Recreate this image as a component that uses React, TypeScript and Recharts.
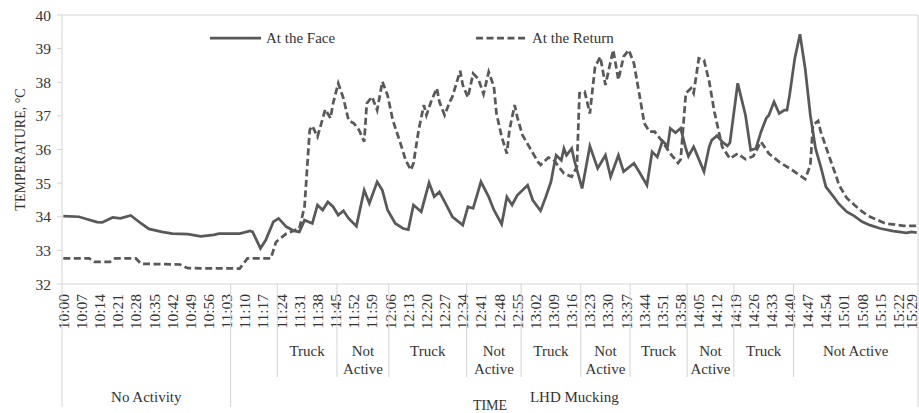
import React from 'react';
import { LineChart, Line, XAxis, YAxis, Legend, ReferenceLine } from 'recharts';

// ---------- DATA ----------
// tick labels of the time axis (every 7 minutes)
const timeLabels = [
  '10:00', '10:07', '10:14', '10:21', '10:28', '10:35', '10:42', '10:49', '10:56',
  '11:03', '11:10', '11:17', '11:24', '11:31', '11:38', '11:45', '11:52', '11:59',
  '12:06', '12:13', '12:20', '12:27', '12:34', '12:41', '12:48', '12:55',
  '13:02', '13:09', '13:16', '13:23', '13:30', '13:37', '13:44', '13:51', '13:58',
  '14:05', '14:12', '14:19', '14:26', '14:33', '14:40', '14:47', '14:54',
  '15:01', '15:08', '15:15', '15:22', '15:29',
];

// "At the Face": minutes after 10:00 and temperature (°C)
const faceMinutes = [
  0, 6, 13, 15, 19, 22, 26, 30, 33, 38, 42, 48, 53, 58, 60, 68, 72, 73, 76, 78,
  81, 83, 86, 89, 91, 93, 96, 98, 100, 102, 104, 106, 108, 110, 113, 116, 118, 121, 123, 125,
  128, 131, 133, 135, 138, 141, 143, 145, 148, 150, 154, 156, 158, 161, 164, 166, 169, 171, 173, 175,
  179, 181, 184, 186, 188, 189, 190, 192, 193, 194, 196, 197, 200, 203, 206, 209, 211, 214, 216, 220,
  222, 225, 227, 229, 231, 233, 234, 236, 238, 240, 241, 243, 244, 247, 249, 250, 252, 254, 256, 257,
  260, 263, 265, 267, 269, 271, 272, 274, 276, 278, 279, 280, 282, 284, 286, 288, 290, 292, 294, 297,
  299, 302, 305, 308, 311, 315, 320, 325, 327, 329,
];
const faceTemps = [
  34.02, 34.0, 33.84, 33.83, 33.98, 33.95, 34.04, 33.8, 33.64, 33.55, 33.5, 33.48, 33.42, 33.46, 33.5, 33.5, 33.58, 33.55, 33.06, 33.3,
  33.85, 33.95, 33.7, 33.58, 33.55, 33.9, 33.8, 34.35, 34.2, 34.44, 34.3, 34.05, 34.18, 33.95, 33.72, 34.79, 34.4, 35.04, 34.79, 34.2,
  33.8, 33.65, 33.62, 34.35, 34.15, 35.01, 34.6, 34.74, 34.3, 34.0, 33.75, 34.3, 34.25, 35.04, 34.59, 34.2, 33.78, 34.59, 34.35, 34.64,
  34.94, 34.49, 34.18, 34.59, 35.04, 35.45, 35.83, 35.68, 36.03, 35.83, 36.03, 35.68, 34.84, 36.1, 35.44, 35.83, 35.19, 35.83, 35.34, 35.59,
  35.34, 34.94, 35.93, 35.78, 36.26, 36.1, 36.63, 36.5, 36.63, 36.03, 35.8, 36.08, 35.9, 35.34, 36.08, 36.28, 36.41, 36.23, 36.11, 36.2,
  37.97, 37.02, 35.98, 36.03, 36.53, 36.93, 37.02, 37.42, 37.07, 37.17, 37.17, 37.62, 38.71, 39.43, 38.41, 37.02, 36.03, 35.49, 34.89, 34.59,
  34.38, 34.15, 34.02, 33.85, 33.75, 33.65, 33.57, 33.52, 33.55, 33.53,
];

// "At the Return": minutes after 10:00 and temperature (°C)
const returnMinutes = [
  0, 10, 12, 18, 20, 28, 30, 45, 48, 68, 71, 80, 82, 86, 91, 93, 95, 96, 98, 101,
  103, 104, 106, 108, 110, 112, 114, 116, 117, 119, 121, 123, 125, 127, 130, 132, 134, 135, 137, 139,
  140, 142, 144, 145, 147, 149, 150, 153, 154, 156, 158, 160, 162, 164, 166, 167, 169, 171, 172, 174,
  175, 177, 180, 183, 184, 187, 189, 191, 193, 196, 198, 199, 201, 203, 205, 207, 209, 212, 214, 216,
  218, 220, 222, 224, 226, 228, 231, 234, 237, 238, 240, 242, 243, 245, 247, 249, 251, 253, 254, 257,
  260, 263, 266, 269, 272, 276, 281, 286, 288, 289, 291, 292, 296, 298, 299, 302, 305, 308, 311, 317,
  324, 329,
];
const returnTemps = [
  32.76, 32.76, 32.66, 32.66, 32.76, 32.76, 32.6, 32.58, 32.47, 32.46, 32.76, 32.76, 33.25, 33.5, 33.65, 34.3, 36.58, 36.7, 36.38, 37.19,
  36.93, 37.37, 37.97, 37.52, 36.86, 36.78, 36.58, 36.23, 37.37, 37.57, 37.17, 38.02, 37.62, 36.88, 36.18, 35.68, 35.39, 35.59, 36.58, 37.32,
  37.02, 37.47, 37.82, 37.42, 37.02, 37.42, 37.57, 38.34, 37.92, 37.55, 38.26, 38.1, 37.65, 38.31, 37.87, 37.07, 36.38, 35.88, 36.58, 37.32,
  36.97, 36.43, 36.03, 35.63, 35.54, 35.76, 35.7, 35.49, 35.29, 35.19, 35.49, 37.67, 37.72, 37.07, 38.46, 38.76, 37.92, 38.96, 38.07, 38.76,
  38.96, 38.56, 37.67, 36.78, 36.53, 36.53, 36.23, 35.88, 35.6, 35.7, 37.67, 37.82, 37.67, 38.71, 38.66, 38.02, 37.12, 36.43, 36.08, 35.73,
  35.88, 35.71, 35.8, 36.23, 35.88, 35.63, 35.39, 35.12, 35.54, 36.73, 36.85, 36.53, 35.63, 35.2, 34.95, 34.56, 34.35, 34.15, 34.0, 33.8,
  33.73, 33.73,
];

const seriesNames = ['At the Face', 'At the Return'];

// activity (second level of the category axis)
const activityLabels = ['', 'Truck', 'Not\nActive', 'Truck', 'Not\nActive', 'Truck', 'Not\nActive', 'Truck', 'Not\nActive', 'Truck', 'Not Active'];
const activityStarts = ['11:05', '11:23', '11:46', '12:06', '12:36', '12:57', '13:20', '13:39', '14:01', '14:19', '14:42'];

// phase (third level of the category axis)
const phaseLabels = ['No Activity', 'LHD Mucking'];
const phaseStarts = ['10:00', '11:05'];

const yTicks = [32, 33, 34, 35, 36, 37, 38, 39, 40];

// ---------- DERIVED ----------
const toMinutes = (s: string) => {
  const [h, m] = s.split(':').map(Number);
  return (h - 10) * 60 + m;
};
const lastMinute = toMinutes(timeLabels[timeLabels.length - 1]);
const domainMin = -0.5;
const domainMax = lastMinute + 0.5;

const timeTicks = timeLabels.map(toMinutes);
const labelByMinute = new Map<number, string>(timeLabels.map((l) => [toMinutes(l), l]));

const faceData = faceMinutes.map((m, i) => ({ minute: m, temp: faceTemps[i] }));
const returnData = returnMinutes.map((m, i) => ({ minute: m, temp: returnTemps[i] }));

const actStartMin = activityStarts.map(toMinutes);
const actBounds = actStartMin.map((m) => m - 0.5);
const actEnds = [...actBounds.slice(1), domainMax];
const groupBoundarySet = new Set<number>(actBounds.slice(1));
const groupLabelAt = new Map<number, string>();
actBounds.forEach((b, i) => {
  if (activityLabels[i]) groupLabelAt.set((b + actEnds[i]) / 2, activityLabels[i]);
});
const groupTicks = [...actBounds.slice(1), ...Array.from(groupLabelAt.keys())].sort((a, b) => a - b);

const phaseBounds = phaseStarts.map((s) => toMinutes(s) - 0.5);
const phaseEnds = [...phaseBounds.slice(1), domainMax];
const phaseBoundarySet = new Set<number>([...phaseBounds, domainMax]);
const phaseLabelAt = new Map<number, string>();
phaseBounds.forEach((b, i) => phaseLabelAt.set((b + phaseEnds[i]) / 2, phaseLabels[i]));
const phaseTicks = [...phaseBoundarySet, ...Array.from(phaseLabelAt.keys())].sort((a, b) => a - b);

// ---------- STYLE ----------
const FONT = '"Liberation Serif", "Times New Roman", serif';
const TEXT = '#333333';
const GRID = '#d4d4d4';
const LINE = '#595959';
const DASH = '7 3.5';
const CHART_W = 919;
const MAIN_H = 48;
const GROUP_H = 50;
const PHASE_H = 31;

function TimeTick(props: any) {
  const { x, y, payload } = props;
  const ty = y + 10;
  const tx = Math.min(x, CHART_W - 7);
  return (
    <text x={tx} y={ty} transform={`rotate(-90 ${tx} ${ty})`} textAnchor="end" dy="0.35em"
      fontSize={15.5} fill={TEXT} fontFamily={FONT}>
      {labelByMinute.get(payload.value)}
    </text>
  );
}

function GroupTick(props: any) {
  const { x, y, payload } = props;
  const v = payload.value;
  if (groupBoundarySet.has(v)) {
    return <line x1={x} x2={x} y1={y - MAIN_H} y2={y + 45} stroke={GRID} strokeWidth={1} />;
  }
  const lines = (groupLabelAt.get(v) || '').split('\n');
  return (
    <text x={x} y={y + 24} textAnchor="middle" fontSize={15} fill={TEXT} fontFamily={FONT}>
      {lines.map((l, i) => (
        <tspan key={i} x={x} dy={i === 0 ? 0 : 18}>{l}</tspan>
      ))}
    </text>
  );
}

function PhaseTick(props: any) {
  const { x, y, payload } = props;
  const v = payload.value;
  if (phaseBoundarySet.has(v)) {
    return <line x1={x} x2={x} y1={y - MAIN_H - GROUP_H} y2={y + 25} stroke={GRID} strokeWidth={1} />;
  }
  return (
    <text x={x} y={y + 20} textAnchor="middle" fontSize={15} fill={TEXT} fontFamily={FONT}>
      {phaseLabelAt.get(v)}
    </text>
  );
}

function YTitle(props: any) {
  const vb = props.viewBox || { x: 0, y: 15, width: 62, height: 269 };
  const cx = vb.x + 20;
  const cy = vb.y + vb.height / 2;
  return (
    <text x={cx} y={cy} transform={`rotate(-90 ${cx} ${cy})`} textAnchor="middle" dy="0.35em"
      fontSize={14} fill={TEXT} fontFamily={FONT}>
      TEMPERATURE, °C
    </text>
  );
}

const legendLeft = [210, 476];

function LegendBox() {
  return (
    <div style={{ position: 'relative', width: CHART_W, height: 0, fontFamily: FONT, fontSize: 15, color: TEXT }}>
      {seriesNames.map((name, i) => (
        <div key={name} style={{ position: 'absolute', left: legendLeft[i], top: 29.5, height: 16, display: 'flex', alignItems: 'center', whiteSpace: 'nowrap' }}>
          <svg width={51} height={6} style={{ display: 'block' }}>
            <line x1={0} x2={51} y1={3} y2={3} stroke={LINE} strokeWidth={2.75} strokeDasharray={i === 1 ? DASH : undefined} />
          </svg>
          <span style={{ marginLeft: 5, lineHeight: '16px' }}>{name}</span>
        </div>
      ))}
    </div>
  );
}

export default function App() {
  return (
    <div style={{ position: 'absolute', left: 0, top: 0 }}>
      <LineChart width={CHART_W} height={413} margin={{ top: 15, right: 1, bottom: 0, left: 0 }} style={{ fontFamily: FONT }}>
        <XAxis dataKey="minute" type="number" domain={[domainMin, domainMax]} allowDataOverflow
          ticks={timeTicks} interval={0} height={MAIN_H} tickSize={0} tickMargin={0} tickLine={false}
          axisLine={{ stroke: GRID }} tick={TimeTick} />
        <XAxis xAxisId="grp" dataKey="minute" type="number" domain={[domainMin, domainMax]} allowDataOverflow
          ticks={groupTicks} interval={0} height={GROUP_H} tickSize={0} tickMargin={0} tickLine={false}
          axisLine={false} tick={GroupTick} />
        <XAxis xAxisId="phase" dataKey="minute" type="number" domain={[domainMin, domainMax]} allowDataOverflow
          ticks={phaseTicks} interval={0} height={PHASE_H} tickSize={0} tickMargin={0} tickLine={false}
          axisLine={false} tick={PhaseTick}
          label={{ value: 'TIME', position: 'insideBottom', offset: 3, fontSize: 14, fill: TEXT, fontFamily: FONT }} />
        <YAxis type="number" domain={[32, 40]} ticks={yTicks} interval={0} width={62} tickSize={5} tickMargin={6}
          axisLine={{ stroke: GRID }} tickLine={{ stroke: GRID }}
          tick={{ fontSize: 15.5, fill: TEXT, fontFamily: FONT }}
          label={(p: any) => <YTitle viewBox={p && p.viewBox} />} />
        <ReferenceLine y={40} stroke={GRID} />
        <ReferenceLine x={domainMax} stroke={GRID} />
        <Legend layout="vertical" align="center" verticalAlign="middle"
          wrapperStyle={{ left: 0, top: 0, width: CHART_W, height: 0 }} content={() => <LegendBox />} />
        {/* invisible carriers so the category-group axes receive a domain */}
        <Line xAxisId="grp" data={faceData} dataKey="temp" stroke="none" dot={false} activeDot={false}
          legendType="none" isAnimationActive={false} />
        <Line xAxisId="phase" data={faceData} dataKey="temp" stroke="none" dot={false} activeDot={false}
          legendType="none" isAnimationActive={false} />
        <Line data={returnData} dataKey="temp" name={seriesNames[1]} type="linear" stroke={LINE} strokeWidth={2.75}
          strokeDasharray={DASH} dot={false} activeDot={false} isAnimationActive={false} />
        <Line data={faceData} dataKey="temp" name={seriesNames[0]} type="linear" stroke={LINE} strokeWidth={2.75}
          dot={false} activeDot={false} isAnimationActive={false} />
      </LineChart>
    </div>
  );
}
